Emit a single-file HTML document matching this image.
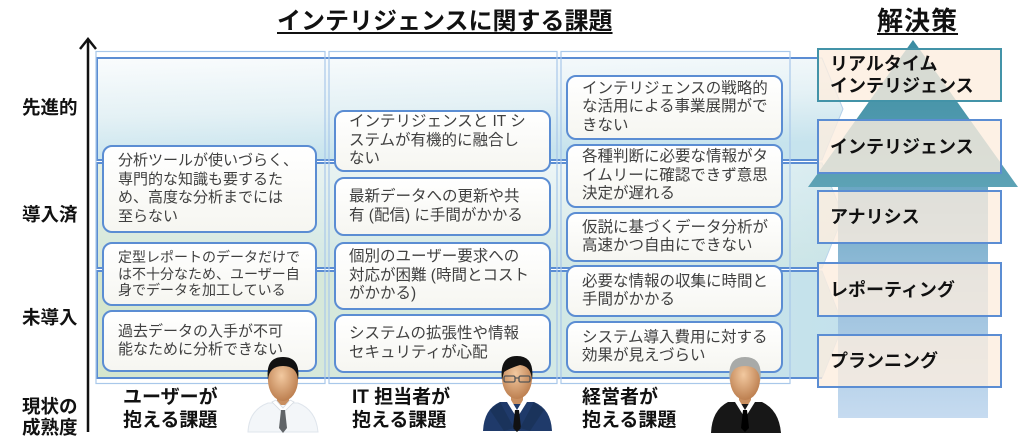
<!DOCTYPE html>
<html><head><meta charset="utf-8">
<style>
*{margin:0;padding:0;box-sizing:border-box}
body{width:1024px;height:448px;background:#fff;position:relative;overflow:hidden;font-family:"Liberation Sans","Noto Sans CJK JP",sans-serif}
svg{position:absolute;left:0;top:0}
.t{position:absolute;white-space:nowrap}
.lab{font-weight:bold;font-size:18.5px;color:#111;line-height:22px}
.bl{font-weight:bold;font-size:19px;color:#111;line-height:23px}
.box{position:absolute;border:2px solid #5b8dd3;border-radius:10px;background:linear-gradient(#ffffff,#f6f6f1);display:flex;align-items:center;color:#404040;white-space:nowrap;font-size:15.5px;line-height:18.5px;padding-left:13px}
.rb{position:absolute;left:817px;width:185px;border:2px solid #5b8dd3;background:rgba(253,237,222,0.8);display:flex;align-items:center;padding-left:11px;font-weight:bold;font-size:18px;line-height:22px;color:#111;white-space:nowrap}
</style></head><body>
<svg width="1024" height="448" viewBox="0 0 1024 448">
<defs>
<linearGradient id="b1" x1="0" y1="0" x2="0.25" y2="1"><stop offset="0" stop-color="#fafcfd"/><stop offset="0.55" stop-color="#e4f1f5"/><stop offset="1" stop-color="#c6e3ed"/></linearGradient>
<linearGradient id="b2" x1="0" y1="0" x2="0" y2="1"><stop offset="0" stop-color="#eef6f7"/><stop offset="1" stop-color="#d2e7e4"/></linearGradient>
<linearGradient id="b2h" x1="0" y1="0" x2="1" y2="0"><stop offset="0" stop-color="#d8e8cf" stop-opacity="0.5"/><stop offset="0.6" stop-color="#d8ecee" stop-opacity="0"/><stop offset="1" stop-color="#bfe0ea" stop-opacity="0.5"/></linearGradient>
<linearGradient id="b3" x1="0" y1="0" x2="1" y2="0"><stop offset="0" stop-color="#d5e6cd"/><stop offset="0.5" stop-color="#d6eae3"/><stop offset="1" stop-color="#c3e1ec"/></linearGradient>
<linearGradient id="ah" x1="0" y1="0" x2="0" y2="1"><stop offset="0" stop-color="#3b8ca2"/><stop offset="1" stop-color="#5da2b5"/></linearGradient>
<linearGradient id="as" x1="0" y1="0" x2="0" y2="1"><stop offset="0" stop-color="#6aa6c3"/><stop offset="0.5" stop-color="#9dc2de"/><stop offset="1" stop-color="#c6dbf0"/></linearGradient>
<radialGradient id="skin" cx="0.45" cy="0.4" r="0.65"><stop offset="0" stop-color="#f2c9a0"/><stop offset="1" stop-color="#b97a4a"/></radialGradient>
</defs>
<!-- axis -->
<line x1="88" y1="40" x2="88" y2="432" stroke="#111" stroke-width="2.5"/>
<polyline points="80,49 88,39 96,49" fill="none" stroke="#111" stroke-width="2.5"/>
<!-- bands -->
<polygon points="97,58 822,58 843,109 822,160 97,160" fill="url(#b1)" stroke="#b5d0ea" stroke-width="1"/>
<polygon points="97,163 822,163 843,216 822,268 97,268" fill="url(#b2)" stroke="#b5d0ea" stroke-width="1"/>
<polygon points="97,163 822,163 843,216 822,268 97,268" fill="url(#b2h)"/>
<polygon points="97,271 822,271 843,325 822,378 97,378" fill="url(#b3)" stroke="#b5d0ea" stroke-width="1"/>
<path d="M817 58 H97 V160 H817" fill="none" stroke="#5b8dd3" stroke-width="2"/>
<path d="M817 163 H97 V268 H817" fill="none" stroke="#5b8dd3" stroke-width="2"/>
<path d="M817 271 H97 V378 H822" fill="none" stroke="#5b8dd3" stroke-width="2"/>
<!-- column outlines -->
<rect x="96" y="51.5" width="229" height="332" fill="none" stroke="#a9c8ea" stroke-width="1.2"/>
<rect x="329" y="51.5" width="228" height="332" fill="none" stroke="#a9c8ea" stroke-width="1.2"/>
<rect x="561" y="51.5" width="229" height="332" fill="none" stroke="#a9c8ea" stroke-width="1.2"/>
<!-- big arrow -->
<rect x="838" y="186" width="150" height="232" fill="url(#as)"/>
<polygon points="913,40 1018,187 808,187" fill="url(#ah)"/>
</svg>

<!-- title -->
<div class="t" style="left:277px;top:7px;font-size:24px;font-weight:bold;color:#111;text-decoration:underline;text-underline-offset:3px;line-height:30px">インテリジェンスに関する課題</div>
<div class="t" style="left:877px;top:6px;font-size:26px;font-weight:bold;color:#111;text-decoration:underline;text-underline-offset:3px;line-height:30px;letter-spacing:1px">解決策</div>

<!-- left labels -->
<div class="t lab" style="left:22px;top:97px">先進的</div>
<div class="t lab" style="left:22px;top:204px">導入済</div>
<div class="t lab" style="left:22px;top:307px">未導入</div>
<div class="t lab" style="left:22px;top:396px;line-height:21px">現状の<br>成熟度</div>

<!-- column 1 -->
<div class="box" style="left:102px;top:145px;width:215px;height:88px;font-size:15px;padding-left:14px">分析ツールが使いづらく、<br>専門的な知識も要するた<br>め、高度な分析までには<br>至らない</div>
<div class="box" style="left:102px;top:242px;width:215px;height:64px;font-size:14px;line-height:16.5px;padding-left:14px">定型レポートのデータだけで<br>は不十分なため、ユーザー自<br>身でデータを加工している</div>
<div class="box" style="left:102px;top:310px;width:215px;height:62px;font-size:15px;padding-left:14px">過去データの入手が不可<br>能なために分析できない</div>

<!-- column 2 -->
<div class="box" style="left:334px;top:110px;width:217px;height:62px">インテリジェンスと IT シ<br>ステムが有機的に融合し<br>ない</div>
<div class="box" style="left:334px;top:177px;width:217px;height:59px">最新データへの更新や共<br>有 (配信) に手間がかかる</div>
<div class="box" style="left:334px;top:242px;width:217px;height:68px">個別のユーザー要求への<br>対応が困難 (時間とコスト<br>がかかる)</div>
<div class="box" style="left:334px;top:314px;width:217px;height:59px">システムの拡張性や情報<br>セキュリティが心配</div>

<!-- column 3 -->
<div class="box" style="left:566px;top:75px;width:217px;height:65px;padding-left:14px">インテリジェンスの戦略的<br>な活用による事業展開がで<br>きない</div>
<div class="box" style="left:566px;top:144px;width:217px;height:64px;padding-left:14px">各種判断に必要な情報がタ<br>イムリーに確認できず意思<br>決定が遅れる</div>
<div class="box" style="left:566px;top:212px;width:217px;height:50px;padding-left:14px">仮説に基づくデータ分析が<br>高速かつ自由にできない</div>
<div class="box" style="left:566px;top:265px;width:217px;height:52px;padding-left:14px">必要な情報の収集に時間と<br>手間がかかる</div>
<div class="box" style="left:566px;top:321px;width:217px;height:52px;padding-left:14px">システム導入費用に対する<br>効果が見えづらい</div>

<!-- right boxes -->
<div class="rb" style="top:48px;height:54px;border-color:#4393a8">リアルタイム<br>インテリジェンス</div>
<div class="rb" style="top:119px;height:55px">インテリジェンス</div>
<div class="rb" style="top:190px;height:54px">アナリシス</div>
<div class="rb" style="top:262px;height:55px">レポーティング</div>
<div class="rb" style="top:334px;height:54px">プランニング</div>

<!-- bottom labels -->
<div class="t bl" style="left:123px;top:386px">ユーザーが<br>抱える課題</div>
<div class="t bl" style="left:352px;top:386px">IT 担当者が<br>抱える課題</div>
<div class="t bl" style="left:582px;top:386px">経営者が<br>抱える課題</div>

<!-- persons -->
<svg width="1024" height="448" viewBox="0 0 1024 448">
<!-- user -->
<g>
<path d="M248 432 Q249 410 268 403 L298 403 Q316 410 318 432 Z" fill="#f3f6f9" stroke="#dfe5ec" stroke-width="1"/>
<rect x="277" y="392" width="12" height="13" fill="#c98f60"/>
<path d="M272 402 L283 413 L294 402 L290 400 L283 408 L276 400 Z" fill="#ffffff" stroke="#d5dbe2" stroke-width="0.8"/>
<path d="M281 410 L285 410 L287 428 L283 433 L279 428 Z" fill="#606468"/>
<ellipse cx="283" cy="380" rx="15" ry="21" fill="url(#skin)"/>
<path d="M268 380 Q265 357 283 357 Q301 357 298 380 Q297 366 283 366 Q269 366 268 380 Z" fill="#111"/>
</g>
<!-- IT -->
<g>
<path d="M483 431 Q484 409 500 402 L534 402 Q551 409 552 431 Z" fill="#1f3a6a"/>
<rect x="511" y="391" width="12" height="13" fill="#c98f60"/>
<path d="M507 402 L517 418 L527 402 L523 400 L517 410 L511 400 Z" fill="#ffffff"/>
<path d="M515 410 L519 410 L521 428 L517 432 L513 428 Z" fill="#111"/>
<path d="M500 402 L514 428 L504 431 L490 410 Z" fill="#183056" opacity="0.7"/>
<path d="M534 402 L520 428 L530 431 L544 410 Z" fill="#183056" opacity="0.7"/>
<ellipse cx="517" cy="378" rx="15" ry="21" fill="url(#skin)"/>
<path d="M502 380 Q499 356 517 356 Q535 356 532 380 Q531 366 520 365 Q510 368 504 372 Z" fill="#111"/>
<rect x="504" y="376" width="11" height="6" rx="1.5" fill="none" stroke="#555" stroke-width="1.3"/>
<rect x="519" y="376" width="11" height="6" rx="1.5" fill="none" stroke="#555" stroke-width="1.3"/>
<line x1="515" y1="378" x2="519" y2="378" stroke="#555" stroke-width="1.2"/>
</g>
<!-- exec -->
<g>
<path d="M711 433 Q712 410 728 402 L762 402 Q779 410 781 433 Z" fill="#171717"/>
<rect x="739" y="391" width="12" height="13" fill="#c98f60"/>
<path d="M735 402 L745 418 L755 402 L751 400 L745 410 L739 400 Z" fill="#ffffff"/>
<path d="M743 410 L747 410 L749 428 L745 432 L741 428 Z" fill="#000"/>
<ellipse cx="745" cy="379" rx="15" ry="21" fill="url(#skin)"/>
<path d="M730 382 Q726 357 745 357 Q764 357 760 382 Q760 366 745 366 Q730 366 730 382 Z" fill="#a8aaa8"/>
</g>
</svg>
</body></html>
